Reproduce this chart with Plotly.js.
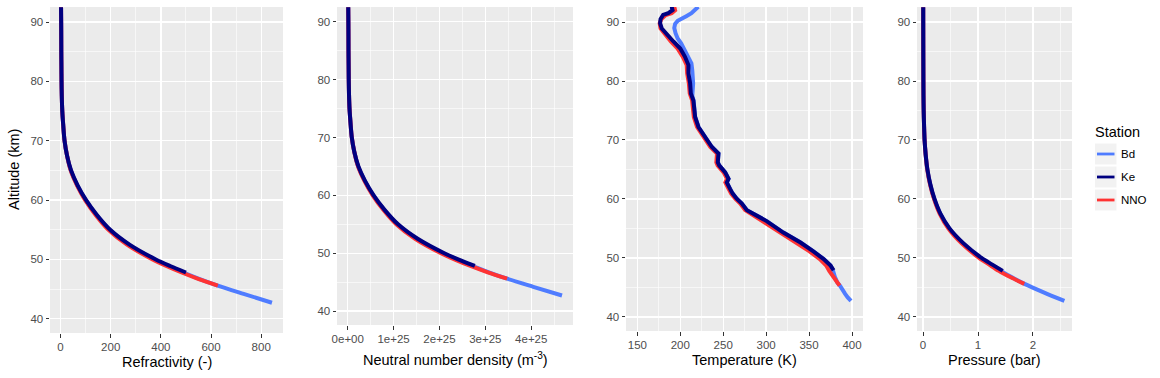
<!DOCTYPE html>
<html>
<head>
<meta charset="utf-8">
<script src="https://cdn.plot.ly/plotly-3.0.1.min.js"></script>
<style>html,body{margin:0;padding:0;background:#fff}#chart{width:1160px;height:378px}</style>
</head>
<body>
<div id="chart"></div>
<script>
// ---------------- DATA ----------------
const stations = ["Bd", "Ke", "NNO"];
const stationColors = {Bd: "#4F7CFF", Ke: "#000080", NNO: "#FF3333"};

// Altitude grids (km) for refractivity / density / pressure profiles
const altKe  = [92.5, 90, 87.5, 85, 82.5, 80, 77.5, 75, 72.5, 70, 67.5, 65, 62.5, 60, 57.5, 55, 52.5, 50, 48.9, 47.8];
const altNNO = [92.5, 90, 87.5, 85, 82.5, 80, 77.5, 75, 72.5, 70, 67.5, 65, 62.5, 60, 57.5, 55, 52.5, 50, 48.9, 47.8, 46.7, 45.6];
const altBd  = [92.5, 90, 87.5, 85, 82.5, 80, 77.5, 75, 72.5, 70, 67.5, 65, 62.5, 60, 57.5, 55, 52.5, 50, 48.9, 47.8, 46.7, 45.6, 44.2, 42.7];

// Refractivity (-)
const refrKe  = [2, 2.5, 2.8, 3, 3.5, 4, 5, 7, 11, 16, 26, 42, 68, 102, 145, 198, 275, 380, 437, 500];
const refrNNO = [2, 2.5, 2.8, 3, 3.5, 4, 5, 7, 11, 16, 26, 40.5, 65.6, 98.4, 140, 191, 265, 367, 422, 483, 551, 627];
const refrBd  = [2, 2.5, 2.8, 3, 3.5, 4, 5, 7, 11, 16, 26, 41, 67, 100, 143, 195, 270, 373, 430, 490, 555, 627, 730, 843];

// Neutral number density (m^-3)
const densKe  = [1.11e23, 1.39e23, 1.55e23, 1.66e23, 1.94e23, 2.22e23, 2.77e23, 3.88e23, 6.09e23, 8.86e23, 1.44e24, 2.33e24, 3.77e24, 5.65e24, 8.03e24, 1.097e25, 1.524e25, 2.105e25, 2.42e25, 2.77e25];
const densNNO = [1.11e23, 1.39e23, 1.55e23, 1.66e23, 1.94e23, 2.22e23, 2.77e23, 3.88e23, 6.09e23, 8.86e23, 1.44e24, 2.244e24, 3.634e24, 5.451e24, 7.756e24, 1.058e25, 1.468e25, 2.033e25, 2.338e25, 2.676e25, 3.053e25, 3.474e25];
const densBd  = [1.11e23, 1.39e23, 1.55e23, 1.66e23, 1.94e23, 2.22e23, 2.77e23, 3.88e23, 6.09e23, 8.86e23, 1.44e24, 2.271e24, 3.712e24, 5.54e24, 7.922e24, 1.080e25, 1.496e25, 2.066e25, 2.382e25, 2.715e25, 3.075e25, 3.474e25, 4.044e25, 4.670e25];

// Pressure (bar)
const presKe  = [0.00291, 0.00339, 0.00402, 0.00463, 0.00561, 0.00647, 0.00815, 0.01168, 0.01841, 0.02813, 0.0481, 0.0798, 0.1322, 0.2083, 0.3160, 0.4816, 0.7322, 1.0636, 1.2529, 1.4494];
const presNNO = [0.00292, 0.00338, 0.00398, 0.00456, 0.00554, 0.00640, 0.00808, 0.01158, 0.01829, 0.02789, 0.0477, 0.0764, 0.1267, 0.1994, 0.3020, 0.4587, 0.6982, 1.0189, 1.1975, 1.3780, 1.5954, 1.8418];
const presBd  = [0.00335, 0.00377, 0.00415, 0.00470, 0.00578, 0.00660, 0.00825, 0.01168, 0.01841, 0.02813, 0.0481, 0.0778, 0.1302, 0.2042, 0.3117, 0.4741, 0.7188, 1.0440, 1.2333, 1.4169, 1.6175, 1.8466, 2.1830, 2.5713];

// Temperature profiles (K) on their own altitude grids (km)
const tAltKe = [92.6, 92.0, 91.5, 91.2, 90.5, 89.8, 88.9, 88.1, 86.7, 85.5, 84.1, 82.7, 81.3, 79.6, 77.9, 76.7, 73.9, 72.2, 70.5, 68.8, 67.7, 66.2, 65.7, 64.5, 63.4, 62.8, 61.7, 60.9, 60.0, 59.2, 58.1, 57.5, 56.2, 54.3, 52.6, 51.1, 49.8, 48.7, 47.9];
const tempKe = [190, 191, 186, 180, 177, 176.5, 178.5, 184, 192, 200, 205.5, 209.5, 209.5, 211.5, 212.3, 215.3, 217.3, 221.2, 229, 236.8, 244.5, 243.7, 245.3, 252.3, 256.2, 254.2, 258, 261, 266, 271.7, 277.6, 285.3, 301, 320, 340, 355, 367, 375, 378.6];

const tAltNNO = [92.6, 92.0, 91.5, 91.2, 90.5, 89.8, 88.9, 88.1, 86.7, 85.5, 84.1, 82.7, 81.3, 79.6, 77.9, 76.7, 73.9, 72.2, 70.5, 68.8, 67.7, 66.2, 65.7, 64.5, 63.4, 62.8, 61.7, 60.9, 60.0, 59.2, 58.1, 57.5, 56.2, 54.3, 52.6, 51.1, 49.8, 48.7, 47.8, 46.8, 45.8, 45.3];
const tempNNO = [193, 194, 190, 183, 178, 176, 177, 181, 189, 197, 203, 207.5, 208, 210, 211, 213.8, 215.8, 219.5, 227, 235, 242.8, 242, 243.5, 250.5, 254.5, 252.5, 256.3, 259.3, 264.3, 269.8, 275.5, 282, 296.5, 315.5, 335.5, 350.5, 362.5, 370, 373.5, 378.5, 382.5, 385.5];

const tAltBd = [92.6, 92.0, 91.5, 91.0, 90.6, 90.2, 89.7, 89.0, 88.1, 87.2, 86.4, 85.5, 84.7, 83.8, 83.0, 81.8, 80.7, 79.6, 78.5, 77.5, 76.7, 73.9, 72.2, 70.5, 68.8, 67.7, 66.2, 65.7, 64.5, 63.4, 62.8, 61.7, 60.9, 60.0, 59.2, 58.1, 57.5, 56.2, 54.3, 52.6, 51.1, 49.8, 48.7, 47.8, 46.8, 45.8, 45.3, 44.5, 43.9, 43.3, 42.7];
const tempBd = [221, 217, 213, 207, 202, 197, 194, 193, 194.5, 197, 201, 204.5, 207.5, 210.5, 213, 214, 214.6, 215, 214.5, 214, 215.5, 217.3, 221.2, 229, 236.8, 244.5, 243.7, 245.3, 252.3, 256.2, 254.2, 258, 261, 266, 271.7, 277.6, 285.3, 301, 320, 340, 355, 367, 375, 378, 380, 383, 386, 389, 392, 395, 398.8];

// Tick labels
const yTicks = [40, 50, 60, 70, 80, 90];
const refrTicks = [0, 200, 400, 600, 800];
const densTicks = [0, 1e25, 2e25, 3e25, 4e25];
const densTickText = ["0e+00", "1e+25", "2e+25", "3e+25", "4e+25"];
const densMinor = [0.5e25, 1.5e25, 2.5e25, 3.5e25, 4.5e25];
const tempTicks = [150, 200, 250, 300, 350, 400];
const presTicks = [0, 1, 2];

// ---------------- LAYOUT HELPERS ----------------
const W = 1160, H = 378;
const px = x => x / W;
const py = y => 1 - y / H;
const FONT = "Liberation Sans, Arial, Helvetica, sans-serif";

const profiles = {
  Bd:  {alt: altBd,  refr: refrBd,  dens: densBd,  pres: presBd,  tAlt: tAltBd,  temp: tempBd},
  Ke:  {alt: altKe,  refr: refrKe,  dens: densKe,  pres: presKe,  tAlt: tAltKe,  temp: tempKe},
  NNO: {alt: altNNO, refr: refrNNO, dens: densNNO, pres: presNNO, tAlt: tAltNNO, temp: tempNNO}
};
const drawOrder = ["Bd", "NNO", "Ke"];

const traces = [];
drawOrder.forEach(s => {
  const p = profiles[s];
  const line = {color: stationColors[s], width: 4};
  traces.push({x: p.refr, y: p.alt, xaxis: "x", yaxis: "y", mode: "lines", name: s, showlegend: false, line: Object.assign({shape: "spline", smoothing: 0.8}, line), hoverinfo: "skip"});
  traces.push({x: p.dens, y: p.alt, xaxis: "x2", yaxis: "y2", mode: "lines", name: s, showlegend: false, line: Object.assign({shape: "spline", smoothing: 0.8}, line), hoverinfo: "skip"});
  traces.push({x: p.temp, y: p.tAlt, xaxis: "x3", yaxis: "y3", mode: "lines", name: s, showlegend: false, line: Object.assign({shape: "linear"}, line), hoverinfo: "skip"});
  traces.push({x: p.pres, y: p.alt, xaxis: "x4", yaxis: "y4", mode: "lines", name: s, showlegend: false, line: Object.assign({shape: "spline", smoothing: 0.8}, line), hoverinfo: "skip"});
});

const tickFont = {family: FONT, size: 11.5, color: "#4D4D4D"};
function axisBase(extra) {
  return Object.assign({
    showgrid: true, gridcolor: "#FFFFFF", gridwidth: 1.3,
    zeroline: false, showline: false,
    ticks: "outside", ticklen: 3.5, tickwidth: 1, tickcolor: "#333333",
    tickfont: tickFont, fixedrange: true
  }, extra);
}
function minorGrid(extra) {
  return Object.assign({showgrid: true, gridcolor: "#FFFFFF", gridwidth: 0.6, ticks: ""}, extra);
}
const yRange = [37.6, 92.55];
function yAxis(anchor, top, bottom) {
  return axisBase({anchor: anchor, domain: [py(bottom), py(top)], range: yRange,
    tickmode: "array", tickvals: yTicks, minor: minorGrid({dtick: 5, tick0: 0})});
}

const layout = {
  width: W, height: H,
  margin: {l: 0, r: 0, t: 0, b: 0},
  paper_bgcolor: "#FFFFFF", plot_bgcolor: "#EBEBEB",
  showlegend: false,
  font: {family: FONT},
  xaxis:  axisBase({anchor: "y",  domain: [px(50),  px(283)],  range: [-42, 887], tickmode: "array", tickvals: refrTicks, minor: minorGrid({dtick: 100, tick0: 0})}),
  xaxis2: axisBase({anchor: "y2", domain: [px(337), px(573)],  range: [-0.234e25, 4.91e25], tickmode: "array", tickvals: densTicks, ticktext: densTickText, minor: minorGrid({tickmode: "array", tickvals: densMinor})}),
  xaxis3: axisBase({anchor: "y3", domain: [px(626), px(863)],  range: [136.8, 412.8], tickmode: "array", tickvals: tempTicks, minor: minorGrid({dtick: 25, tick0: 0})}),
  xaxis4: axisBase({anchor: "y4", domain: [px(917), px(1072)], range: [-0.11, 2.71], tickmode: "array", tickvals: presTicks, minor: minorGrid({dtick: 0.5, tick0: 0})}),
  yaxis:  yAxis("x", 7, 333),
  yaxis2: yAxis("x2", 7, 325),
  yaxis3: yAxis("x3", 7, 331),
  yaxis4: yAxis("x4", 7, 331),
  annotations: [],
  shapes: []
};

const titleFont = {family: FONT, size: 14.5, color: "#000000"};
function addText(text, x, y, opts) {
  layout.annotations.push(Object.assign({
    text: text, xref: "paper", yref: "paper", x: px(x), y: py(y),
    xanchor: "center", yanchor: "middle", showarrow: false, font: titleFont
  }, opts || {}));
}
addText("Refractivity (-)", 166.5, 362);
addText("Neutral number density (m<sup>-3</sup>)", 455, 359);
addText("Temperature (K)", 744.5, 359.5);
addText("Pressure (bar)", 994.5, 359.5);
addText("Altitude (km)", 14, 170, {textangle: -90});

// Legend (ggplot-style keys)
addText("Station", 1093, 132, {xanchor: "left"});
const keyCenters = [154, 177, 200];
stations.forEach((s, i) => {
  const cy = keyCenters[i];
  layout.shapes.push({type: "rect", xref: "paper", yref: "paper", x0: px(1095), x1: px(1116.5), y0: py(cy + 10.5), y1: py(cy - 10.5), fillcolor: "#F2F2F2", line: {width: 0}, layer: "below"});
  layout.shapes.push({type: "line", xref: "paper", yref: "paper", x0: px(1097), x1: px(1114.5), y0: py(cy), y1: py(cy), line: {color: stationColors[s], width: 2.8}});
  addText(s, 1119, cy, {xanchor: "left", font: {family: FONT, size: 11.5, color: "#000000"}});
});

Plotly.newPlot("chart", traces, layout, {staticPlot: true, displayModeBar: false});
</script>
</body>
</html>
